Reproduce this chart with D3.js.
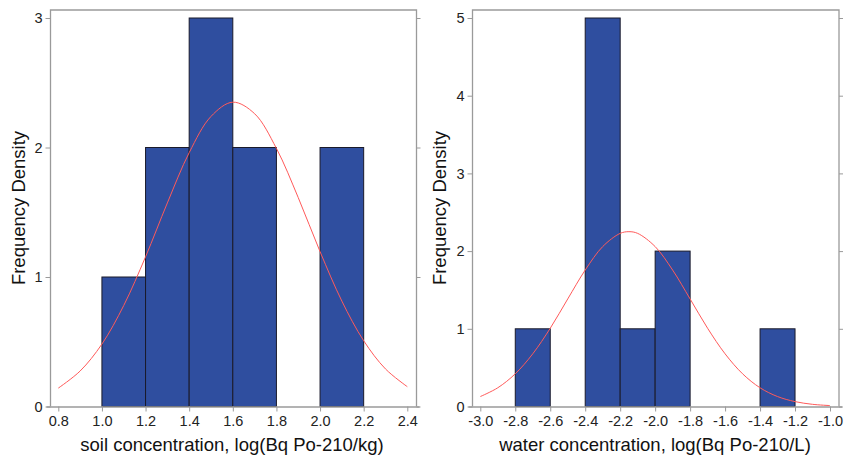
<!DOCTYPE html>
<html><head><meta charset="utf-8">
<script src="https://cdn.jsdelivr.net/npm/d3@7"></script>
<style>
body{margin:0;background:#fff;}
svg{display:block;font-family:"Liberation Sans",Arial,sans-serif;}
</style></head>
<body>
<svg id="c" width="844" height="460"></svg>
<script>
// ---- data ----
const binWidth = 0.2;
const soilBinStarts = [1.0, 1.2, 1.4, 1.6, 1.8, 2.0];
const soilCounts    = [1, 2, 3, 2, 0, 2];
const soilTicksX    = [0.8, 1.0, 1.2, 1.4, 1.6, 1.8, 2.0, 2.2, 2.4];
const soilTicksY    = [0, 1, 2, 3];
const soilCurveX    = [0.8, 0.9, 1.0, 1.1, 1.2, 1.3, 1.4, 1.5, 1.6, 1.7, 1.8, 1.9, 2.0, 2.1, 2.2, 2.3, 2.4];
const soilCurveY    = [0.142, 0.274, 0.482, 0.780, 1.156, 1.572, 1.960, 2.240, 2.350, 2.261, 1.993, 1.613, 1.196, 0.814, 0.508, 0.290, 0.153];

const waterBinStarts = [-2.8, -2.6, -2.4, -2.2, -2.0, -1.8, -1.6, -1.4];
const waterCounts    = [1, 0, 5, 1, 2, 0, 0, 1];
const waterTicksX    = [-3.0, -2.8, -2.6, -2.4, -2.2, -2.0, -1.8, -1.6, -1.4, -1.2, -1.0];
const waterTicksY    = [0, 1, 2, 3, 4, 5];
const waterCurveX    = [-3.0, -2.9, -2.8, -2.7, -2.6, -2.5, -2.4, -2.3, -2.2, -2.15, -2.1, -2.0, -1.9, -1.8, -1.7, -1.6, -1.5, -1.4, -1.3, -1.2, -1.1, -1.0];
const waterCurveY    = [0.128, 0.241, 0.421, 0.678, 1.007, 1.384, 1.756, 2.058, 2.228, 2.250, 2.228, 2.058, 1.756, 1.384, 1.007, 0.678, 0.421, 0.241, 0.128, 0.063, 0.028, 0.012];

const svg = d3.select("#c");
const frameColor = "#9a9a9a";
const barFill = "#2F4E9F";

function panel(o){
  const g = svg.append("g");
  const x = d3.scaleLinear().domain(o.xDomain).range(o.xRange);
  const y = d3.scaleLinear().domain(o.yDomain).range([406.5, 18]);
  const L = o.frame[0], R = o.frame[1], T = 10, B = 406.5;

  // bars
  const bars = o.starts.map((s,i)=>({s, c:o.counts[i]})).filter(d=>d.c>0);
  g.selectAll("rect.bar").data(bars).join("rect")
    .attr("x", d=>x(d.s)).attr("width", d=>x(d.s+binWidth)-x(d.s))
    .attr("y", d=>y(d.c)).attr("height", d=>y(0)-y(d.c))
    .attr("fill", barFill).attr("stroke", "#1a1a2a").attr("stroke-width", 1);

  // curve
  const pts = o.cx.map((v,i)=>[v, o.cy[i]]);
  g.append("path").datum(pts)
    .attr("d", d3.line().x(d=>x(d[0])).y(d=>y(d[1])).curve(d3.curveCatmullRom))
    .attr("fill","none").attr("stroke","#ff5a5a").attr("stroke-width",1);

  // frame
  g.append("path").attr("d", `M${L},${B}V${T}H${R}V${B}`)
    .attr("fill","none").attr("stroke",frameColor).attr("stroke-width",1.3);

  // bottom axis
  const xa = g.append("g").attr("transform", `translate(0,${B})`)
    .call(d3.axisBottom(x).tickValues(o.ticksX).tickFormat(v=>v.toFixed(1)).tickSizeOuter(0).tickSize(5).tickPadding(4));
  xa.select(".domain").attr("d", `M${L-4},0.5H${R+3}`).attr("stroke",frameColor).attr("stroke-width",1.3);
  xa.selectAll(".tick line").attr("stroke",frameColor);
  xa.selectAll("text").attr("fill","#222").style("font-size","14.5px").attr("font-family","Liberation Sans, Arial, sans-serif");

  // left axis
  const ya = g.append("g").attr("transform", `translate(${L},0)`)
    .call(d3.axisLeft(y).tickValues(o.ticksY).tickFormat(d3.format("d")).tickSizeOuter(0).tickSize(5).tickPadding(3));
  ya.select(".domain").remove();
  ya.selectAll(".tick line").attr("stroke",frameColor);
  ya.selectAll("text").attr("fill","#222").style("font-size","14.5px").attr("font-family","Liberation Sans, Arial, sans-serif");

  // right ticks
  const ra = g.append("g").attr("transform", `translate(${R},0)`)
    .call(d3.axisRight(y).tickValues(o.ticksY).tickFormat("").tickSizeOuter(0).tickSize(4));
  ra.select(".domain").remove();
  ra.selectAll(".tick line").attr("stroke",frameColor);

  // titles
  g.append("text").attr("x", o.titleX).attr("y", 451).attr("text-anchor","middle")
    .attr("fill","#111").style("font-size","18.5px").text(o.xTitle);
  g.append("text").attr("transform", `translate(${o.yTitleX},208) rotate(-90)`).attr("text-anchor","middle")
    .attr("fill","#111").style("font-size","18.5px").text("Frequency Density");
}

panel({xDomain:[0.8,2.4], xRange:[58.3,407.3], yDomain:[0,3], frame:[50.5,416.5],
  starts:soilBinStarts, counts:soilCounts, cx:soilCurveX, cy:soilCurveY,
  ticksX:soilTicksX, ticksY:soilTicksY, titleX:232, yTitleX:25,
  xTitle:"soil concentration, log(Bq Po-210/kg)"});

panel({xDomain:[-3.0,-1.0], xRange:[480.3,830], yDomain:[0,5], frame:[472.5,839],
  starts:waterBinStarts, counts:waterCounts, cx:waterCurveX, cy:waterCurveY,
  ticksX:waterTicksX, ticksY:waterTicksY, titleX:655, yTitleX:446,
  xTitle:"water concentration, log(Bq Po-210/L)"});
</script>
</body></html>
